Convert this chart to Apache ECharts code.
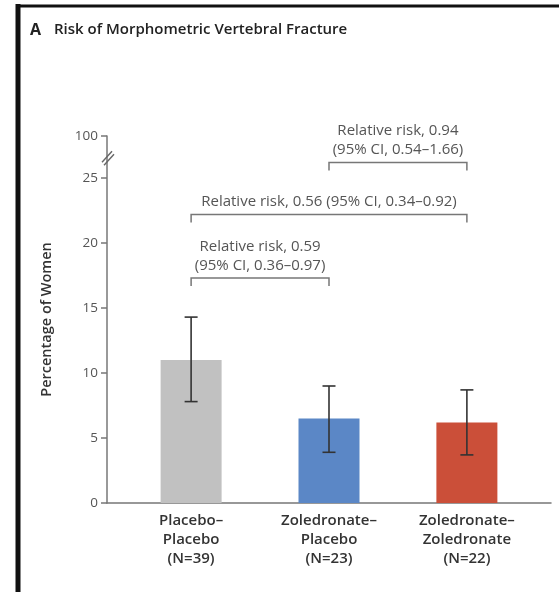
<!DOCTYPE html>
<html>
<head>
<meta charset="utf-8">
<script src="https://cdn.jsdelivr.net/npm/echarts@6/dist/echarts.min.js"></script>
<style>
  html, body { margin: 0; padding: 0; background: #fff; }
  #chart { width: 559px; height: 592px; }
</style>
</head>
<body>
<div id="chart"></div>
<script>
// groups on the x axis
const categories = ['Placebo–\nPlacebo\n(N=39)', 'Zoledronate–\nPlacebo\n(N=23)', 'Zoledronate–\nZoledronate\n(N=22)'];
const barColors = ['#c1c1c1', '#5b87c6', '#cb4f39'];

// percentage of women with fracture, and 95% CI
const percentages = [11.0, 6.5, 6.2];
const ciLow = [7.8, 3.9, 3.7];
const ciHigh = [14.3, 9.0, 8.7];

// y axis: 0-25 then a break up to 100
const yTickValues = [0, 5, 10, 15, 20, 25, 28.23];
const yTickLabels = ['0', '5', '10', '15', '20', '25', '100'];
const yBreakAt = 26.6;

// relative risk brackets
const bracketFrom = [0, 0, 1];
const bracketTo = [1, 2, 2];
const bracketLevel = [17.3, 22.2, 26.2];
const bracketLabels = [
  'Relative risk, 0.59\n(95% CI, 0.36–0.97)',
  'Relative risk, 0.56 (95% CI, 0.34–0.92)',
  'Relative risk, 0.94\n(95% CI, 0.54–1.66)'
];

const FONT = 'Open Sans';
const chart = echarts.init(document.getElementById('chart'));

const option = {
  animation: false,
  backgroundColor: '#fff',
  title: {
    left: 30,
    top: 22,
    padding: 0,
    text: '{a|A}{b|Risk of Morphometric Vertebral Fracture}',
    textStyle: {
      rich: {
        a: { fontFamily: FONT, fontSize: 16, fontWeight: 700, color: '#222', width: 24 },
        b: { fontFamily: FONT, fontSize: 15, fontWeight: 600, color: '#222' }
      }
    }
  },
  graphic: [
    { type: 'line', shape: { x1: 18, y1: 4, x2: 18, y2: 592 }, style: { stroke: '#111', lineWidth: 5 } },
    { type: 'line', shape: { x1: 16, y1: 6, x2: 559, y2: 6 }, style: { stroke: '#111', lineWidth: 3 } }
  ],
  grid: { left: 107, right: 8, top: 136, bottom: 89 },
  xAxis: {
    type: 'value',
    min: -0.61,
    max: 2.61,
    splitLine: { show: false },
    axisLine: { onZero: false, lineStyle: { color: '#777', width: 1.5 } },
    axisTick: { show: false },
    axisLabel: {
      customValues: [0, 1, 2],
      formatter: (v) => categories[Math.round(v)],
      fontFamily: FONT,
      fontSize: 15,
      fontWeight: 600,
      color: '#333',
      lineHeight: 19,
      margin: 8
    }
  },
  yAxis: {
    type: 'value',
    min: 0,
    max: 28.23,
    name: 'Percentage of Women',
    nameLocation: 'middle',
    nameGap: 53,
    nameTextStyle: { fontFamily: FONT, fontSize: 14.5, fontWeight: 600, color: '#333' },
    splitLine: { show: false },
    axisLine: { show: true, onZero: false, lineStyle: { color: '#777', width: 1.5 } },
    axisTick: { show: true, length: 6, customValues: yTickValues, lineStyle: { color: '#777', width: 1.5 } },
    axisLabel: {
      customValues: yTickValues,
      formatter: (v) => yTickLabels[yTickValues.indexOf(v)],
      fontFamily: FONT,
      fontSize: 13.5,
      color: '#555',
      margin: 9
    }
  },
  series: [
    {
      type: 'bar',
      barWidth: 61,
      data: percentages.map((v, i) => ({ value: [i, v], itemStyle: { color: barColors[i] } }))
    },
    {
      type: 'custom',
      z: 5,
      data: percentages.map((v, i) => [i, ciLow[i], ciHigh[i]]),
      renderItem: (params, api) => {
        const lo = api.coord([api.value(0), api.value(1)]);
        const hi = api.coord([api.value(0), api.value(2)]);
        const cap = 6.5;
        const st = { stroke: '#333', lineWidth: 1.6 };
        return {
          type: 'group',
          children: [
            { type: 'line', shape: { x1: lo[0], y1: lo[1], x2: hi[0], y2: hi[1] }, style: st },
            { type: 'line', shape: { x1: hi[0] - cap, y1: hi[1], x2: hi[0] + cap, y2: hi[1] }, style: st },
            { type: 'line', shape: { x1: lo[0] - cap, y1: lo[1], x2: lo[0] + cap, y2: lo[1] }, style: st }
          ]
        };
      }
    },
    {
      type: 'custom',
      z: 5,
      data: bracketLevel.map((y, i) => [bracketFrom[i], bracketTo[i], y]),
      renderItem: (params, api) => {
        const a = api.coord([api.value(0), api.value(2)]);
        const b = api.coord([api.value(1), api.value(2)]);
        const drop = 8;
        const st = { stroke: '#777', lineWidth: 1.5, fill: null };
        return {
          type: 'group',
          children: [
            {
              type: 'polyline',
              shape: { points: [[a[0], a[1] + drop], [a[0], a[1]], [b[0], b[1]], [b[0], b[1] + drop]] },
              style: st
            },
            {
              type: 'text',
              x: (a[0] + b[0]) / 2,
              y: a[1] - 3,
              style: {
                text: bracketLabels[params.dataIndex],
                align: 'center',
                verticalAlign: 'bottom',
                fontFamily: FONT,
                fontSize: 15,
                lineHeight: 19,
                fill: '#555'
              }
            }
          ]
        };
      }
    },
    {
      type: 'custom',
      z: 6,
      data: [[0, yBreakAt]],
      renderItem: (params, api) => {
        const p = api.coord([-0.61, api.value(1)]);
        const st = { stroke: '#666', lineWidth: 1.4 };
        return {
          type: 'group',
          children: [
            { type: 'line', shape: { x1: p[0] - 5, y1: p[1] + 5, x2: p[0] + 5, y2: p[1] - 6 }, style: st },
            { type: 'line', shape: { x1: p[0] - 3, y1: p[1] + 8, x2: p[0] + 7, y2: p[1] - 3 }, style: st }
          ]
        };
      }
    }
  ]
};

chart.setOption(option);
</script>
</body>
</html>
